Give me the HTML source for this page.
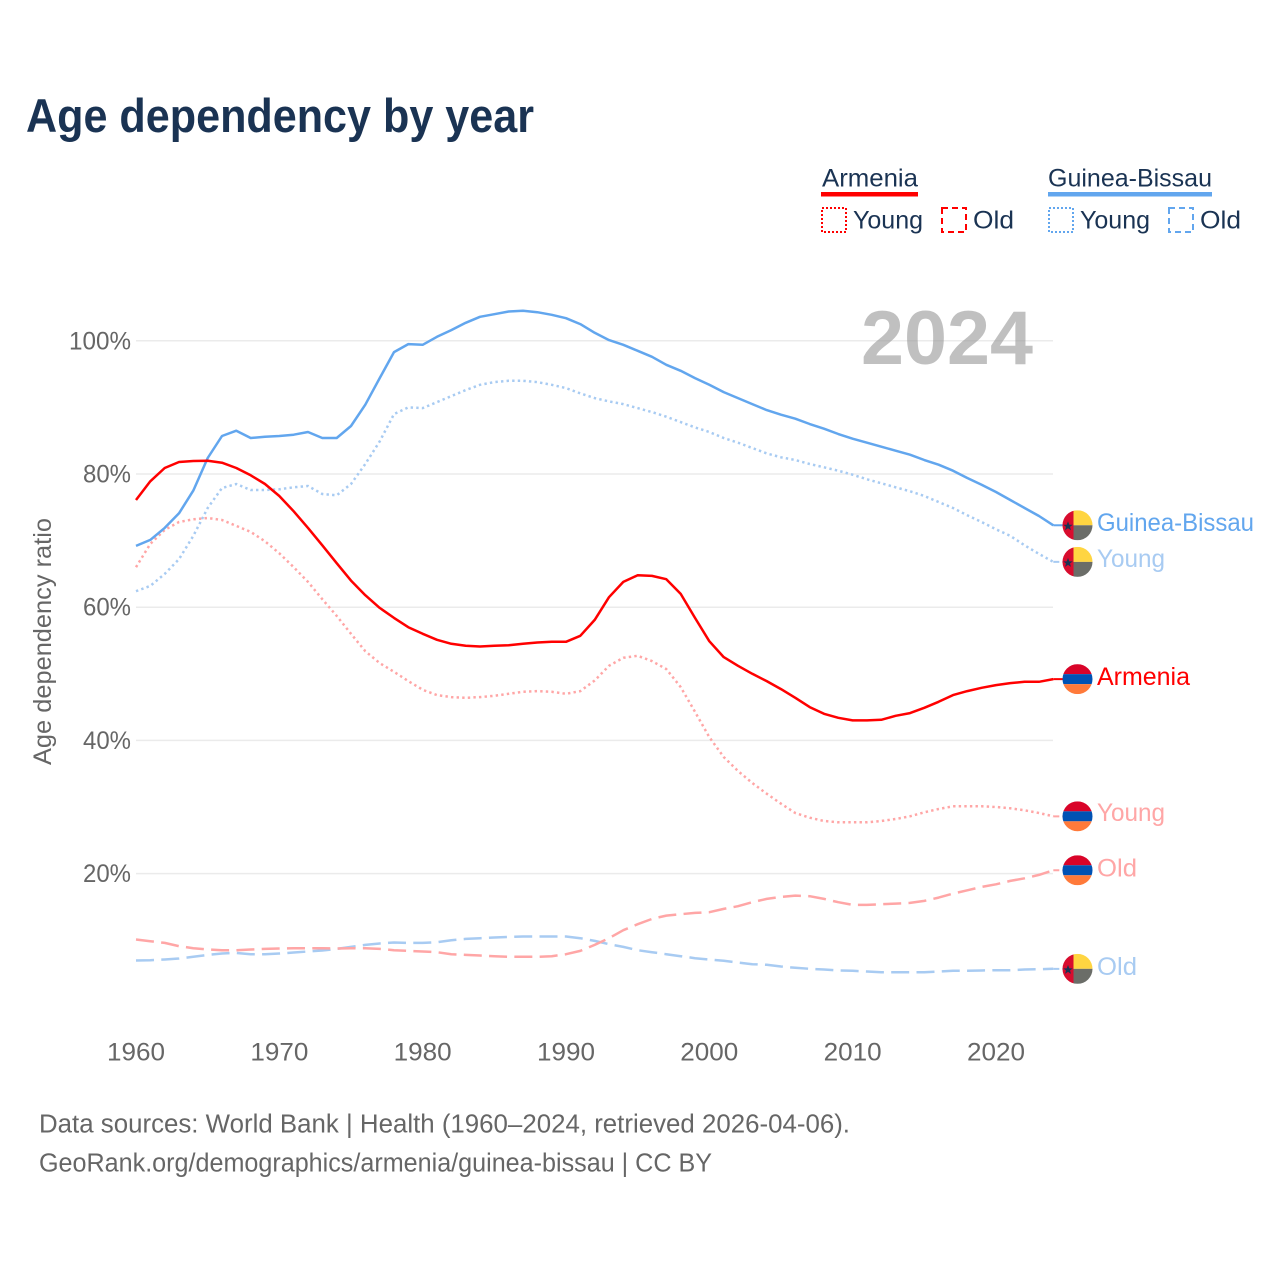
<!DOCTYPE html>
<html lang="en">
<head>
<meta charset="utf-8">
<title>Age dependency by year</title>
<style>
html,body{margin:0;padding:0;background:#fff;}
svg{display:block;font-family:"Liberation Sans",sans-serif;}
</style>
</head>
<body>
<svg id="chart" xmlns="http://www.w3.org/2000/svg" width="1280" height="1280" viewBox="0 0 1280 1280">
  <defs>
    <clipPath id="flag-clip"><circle cx="0" cy="0" r="15"></circle></clipPath>
  </defs>
  <rect x="0" y="0" width="1280" height="1280" fill="#fff"></rect>
  <text x="26" y="132" font-size="47" font-weight="700" fill="#1a3353" textLength="508" lengthAdjust="spacingAndGlyphs">Age dependency by year</text>

  <g font-size="25" fill="#1a3353">
    <text x="822" y="186.500" textLength="96" lengthAdjust="spacingAndGlyphs">Armenia</text>
    <rect x="821" y="192" width="97" height="4.5" fill="#ff0000"></rect>
    <rect x="822" y="208" width="24" height="24" fill="none" stroke="#ff0000" stroke-width="2" stroke-dasharray="2 2"></rect>
    <text x="853" y="228.500" textLength="70" lengthAdjust="spacingAndGlyphs">Young</text>
    <rect x="942" y="208" width="24" height="24" fill="none" stroke="#ff0000" stroke-width="2" stroke-dasharray="6 4"></rect>
    <text x="973" y="228.500" textLength="41" lengthAdjust="spacingAndGlyphs">Old</text>
    <text x="1048" y="186.500" textLength="164" lengthAdjust="spacingAndGlyphs">Guinea-Bissau</text>
    <rect x="1048" y="192" width="164" height="4.5" fill="#62a6ee"></rect>
    <rect x="1049" y="208" width="24" height="24" fill="none" stroke="#62a6ee" stroke-width="2" stroke-dasharray="2 2"></rect>
    <text x="1080" y="228.500" textLength="70" lengthAdjust="spacingAndGlyphs">Young</text>
    <rect x="1169" y="208" width="24" height="24" fill="none" stroke="#62a6ee" stroke-width="2" stroke-dasharray="6 4"></rect>
    <text x="1200" y="228.500" textLength="41" lengthAdjust="spacingAndGlyphs">Old</text>
  </g>

  <g id="grid"></g>
  <text x="861" y="364" font-size="76" font-weight="700" fill="#999" fill-opacity="0.62" textLength="172" lengthAdjust="spacingAndGlyphs">2024</text>
  <g id="yticks" font-size="25" fill="#666" text-anchor="end"></g>
  <g id="xticks" font-size="25" fill="#666" text-anchor="middle"></g>
  <text transform="translate(51,765) rotate(-90)" font-size="25" fill="#666" textLength="247" lengthAdjust="spacingAndGlyphs">Age dependency ratio</text>
  <g id="series"></g>
  <g id="ends"></g>

  <text x="39" y="1132.500" font-size="25.5" fill="#666" textLength="811" lengthAdjust="spacingAndGlyphs">Data sources: World Bank | Health (1960–2024, retrieved 2026-04-06).</text>
  <text x="39" y="1171.500" font-size="25.5" fill="#666" textLength="673" lengthAdjust="spacingAndGlyphs">GeoRank.org/demographics/armenia/guinea-bissau | CC BY</text>
</svg>
<script>
const years = [1960,1961,1962,1963,1964,1965,1966,1967,1968,1969,1970,1971,1972,1973,1974,1975,1976,1977,1978,1979,1980,1981,1982,1983,1984,1985,1986,1987,1988,1989,1990,1991,1992,1993,1994,1995,1996,1997,1998,1999,2000,2001,2002,2003,2004,2005,2006,2007,2008,2009,2010,2011,2012,2013,2014,2015,2016,2017,2018,2019,2020,2021,2022,2023,2024];
const armeniaTotal = [76.1,78.9,80.9,81.8,81.95,82,81.7,80.9,79.8,78.5,76.7,74.4,71.9,69.3,66.6,64,61.8,59.9,58.4,57,56,55.1,54.5,54.2,54.1,54.2,54.3,54.5,54.7,54.8,54.8,55.7,58.1,61.5,63.8,64.8,64.7,64.2,62,58.4,54.9,52.5,51.2,50,48.9,47.7,46.4,45,44,43.4,43,43,43.1,43.7,44.1,44.9,45.8,46.8,47.4,47.9,48.3,48.6,48.8,48.8,49.2];
const armeniaYoung = [66,69.5,71.6,72.8,73.2,73.4,73.1,72.2,71.3,69.9,68.1,66,63.8,61.2,58.7,56,53.4,51.6,50.3,48.9,47.6,46.8,46.5,46.4,46.5,46.7,47,47.3,47.4,47.3,47,47.4,49,51.2,52.4,52.7,51.9,50.7,48,44.3,40.5,37.5,35.4,33.6,32,30.5,29.1,28.4,27.9,27.7,27.7,27.7,27.9,28.2,28.6,29.2,29.7,30.1,30.1,30.1,30,29.8,29.5,29.1,28.6];
const armeniaOld = [10.1,9.85,9.6,9.1,8.8,8.6,8.5,8.5,8.6,8.7,8.75,8.8,8.8,8.8,8.75,8.8,8.8,8.7,8.5,8.4,8.3,8.2,7.9,7.8,7.7,7.6,7.5,7.5,7.5,7.6,7.9,8.4,9.3,10.3,11.5,12.4,13.2,13.7,13.9,14.1,14.2,14.7,15.1,15.7,16.2,16.5,16.7,16.6,16.2,15.7,15.3,15.3,15.4,15.5,15.6,15.9,16.4,17,17.5,18,18.4,18.9,19.3,19.8,20.5];
const guineaTotal = [69.2,70.1,71.9,74.1,77.5,82.4,85.7,86.5,85.4,85.6,85.7,85.9,86.3,85.4,85.4,87.2,90.4,94.4,98.3,99.5,99.4,100.6,101.6,102.7,103.6,104,104.4,104.5,104.3,103.9,103.4,102.5,101.2,100.1,99.4,98.5,97.6,96.4,95.5,94.4,93.4,92.3,91.4,90.5,89.6,88.9,88.3,87.5,86.8,86,85.3,84.7,84.1,83.5,82.9,82.1,81.4,80.5,79.4,78.4,77.3,76.1,74.9,73.7,72.3];
const guineaYoung = [62.4,63.2,65,67.2,70.7,74.9,77.9,78.5,77.6,77.6,77.7,78,78.2,77,76.8,78.5,81.5,84.9,89,90,89.9,90.8,91.7,92.6,93.4,93.8,94,94,93.8,93.4,92.9,92.1,91.4,90.9,90.5,89.9,89.3,88.6,87.8,87,86.3,85.4,84.7,83.9,83.1,82.5,82.1,81.5,81,80.5,79.9,79.2,78.6,78,77.4,76.7,75.8,74.9,73.8,72.8,71.7,70.7,69.3,68,66.8];
const guineaOld = [6.95,7,7.1,7.25,7.5,7.8,8,8.1,7.9,7.9,8,8.15,8.3,8.45,8.7,9,9.3,9.5,9.65,9.6,9.6,9.7,10,10.2,10.3,10.4,10.5,10.55,10.55,10.55,10.55,10.3,9.9,9.4,9,8.5,8.2,7.9,7.6,7.3,7.1,6.9,6.65,6.4,6.3,6.05,5.85,5.7,5.6,5.45,5.4,5.3,5.2,5.2,5.2,5.2,5.3,5.4,5.4,5.45,5.5,5.5,5.6,5.65,5.7];
const xTickValues = [1960,1970,1980,1990,2000,2010,2020];
const yTickValues = [20,40,60,80,100];
const seriesLabels = ['Young','Old','Young','Old','Guinea-Bissau','Armenia'];

const NS = 'http://www.w3.org/2000/svg';
const x = function (year) { return 136 + (year - 1960) * 14.333; };
const y = function (pct) { return 1006.8 - pct * 6.66; };
const make = function (tag, parent, attrs) {
  const el = document.createElementNS(NS, tag);
  Object.keys(attrs).forEach(function (k) { el.setAttribute(k, attrs[k]); });
  parent.appendChild(el);
  return el;
};

const grid = document.getElementById('grid');
const yticks = document.getElementById('yticks');
const xticks = document.getElementById('xticks');
yTickValues.forEach(function (v) {
  const line = make('line', grid, {x1: 136, x2: 1053, y1: y(v), y2: y(v), stroke: '#ebebeb', 'stroke-width': 1.5});
  
  
  const t = make('text', yticks, {x: 131, y: y(v) + 8.5, textLength: v === 100 ? 62 : 48, lengthAdjust: 'spacingAndGlyphs'});
  t.textContent = v + '%';
  
  
});
xTickValues.forEach(function (v) {
  const t = make('text', xticks, {x: x(v), y: 1060.5, textLength: 58, lengthAdjust: 'spacingAndGlyphs'});
  t.textContent = v;
  
  
});

const RED = '#ff0000', BLUE = '#62a6ee', LRED = '#ffa6a6', LBLUE = '#a8cbf2';
const DOT = '2.4 3.2', DASH = '18 7.3';
const seriesList = [
  {values: guineaOld, color: LBLUE, dash: DASH, name: 'line-guinea-bissau-old', flag: 'gw', label: seriesLabels[3], width: 40, nudge: 6},
  {values: armeniaOld, color: LRED, dash: DASH, name: 'line-armenia-old', flag: 'am', label: seriesLabels[1], width: 40, nudge: 6},
  {values: guineaYoung, color: LBLUE, dash: DOT, name: 'line-guinea-bissau-young', flag: 'gw', label: seriesLabels[2], width: 68, nudge: 5},
  {values: armeniaYoung, color: LRED, dash: DOT, name: 'line-armenia-young', flag: 'am', label: seriesLabels[0], width: 68, nudge: 4.5},
  {values: guineaTotal, color: BLUE, dash: null, name: 'line-guinea-bissau-total', flag: 'gw', label: seriesLabels[4], width: 157, nudge: 5.5},
  {values: armeniaTotal, color: RED, dash: null, name: 'line-armenia-total', flag: 'am', label: seriesLabels[5], width: 93, nudge: 6}
];

const seriesGroup = document.getElementById('series');
const ends = document.getElementById('ends');

function drawFlag(parent, kind, cy) {
  const g = make('g', parent, {transform: 'translate(1077.5,' + cy + ')', 'clip-path': 'url(#flag-clip)'});
  if (kind === 'am') {
    make('rect', g, {x: -15, y: -15, width: 30, height: 10, fill: '#d90429'});
    make('rect', g, {x: -15, y: -5, width: 30, height: 10, fill: '#0052b4'});
    make('rect', g, {x: -15, y: 5, width: 30, height: 10, fill: '#ff7a3a'});
  } else {
    make('rect', g, {x: -15, y: -15, width: 11, height: 30, fill: '#d80c2e'});
    make('rect', g, {x: -4, y: -15, width: 19, height: 15, fill: '#ffd541'});
    make('rect', g, {x: -4, y: 0, width: 19, height: 15, fill: '#6b6d68'});
    make('polygon', g, {points: '-9.5,-4 -8.2,-0.5 -4.8,-0.5 -7.5,1.6 -6.5,5 -9.5,3 -12.5,5 -11.5,1.6 -14.2,-0.5 -10.8,-0.5', fill: '#1a3353'});
  }
  return g;
}

seriesList.forEach(function (s) {
  const pts = years.map(function (yr, i) { return x(yr).toFixed(1) + ',' + y(s.values[i]).toFixed(1); }).join(' ');
  const attrs = {points: pts, fill: 'none', stroke: s.color, 'stroke-width': 2.5, 'stroke-linejoin': 'round'};
  if (s.dash) attrs['stroke-dasharray'] = s.dash;
  const line = make('polyline', seriesGroup, attrs);
  
  

  const lastY = y(s.values[s.values.length - 1]);
  const connectorAttrs = {x1: x(years[years.length - 1]), x2: 1064, y1: lastY, y2: lastY, stroke: s.color, 'stroke-width': 2};
  if (s.dash) connectorAttrs['stroke-dasharray'] = '6 3';
  const connector = make('line', ends, connectorAttrs);
  
  

  const flag = drawFlag(ends, s.flag, lastY);
  
  

  const label = make('text', ends, {x: 1097, y: lastY + s.nudge, 'font-size': 25, fill: s.color, textLength: s.width, lengthAdjust: 'spacingAndGlyphs'});
  label.textContent = s.label;
  
  
});
</script>
</body>
</html>
